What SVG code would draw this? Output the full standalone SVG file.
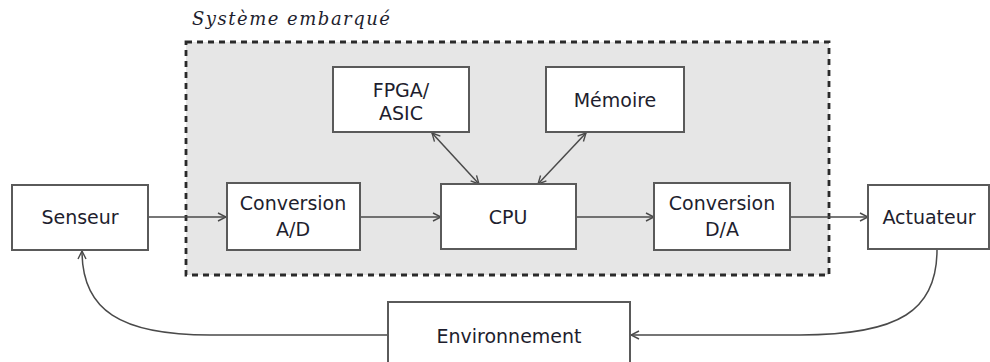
<svg xmlns="http://www.w3.org/2000/svg" width="990" height="362" viewBox="0 0 990 362">
<defs>
<marker id="ah" viewBox="0 0 10 10" refX="9" refY="5" markerWidth="10" markerHeight="10" markerUnits="userSpaceOnUse" orient="auto-start-reverse">
<path d="M1,1 L9,5 L1,9" fill="none" stroke="#4a4a4a" stroke-width="1.4"/>
</marker>
<style>
.box{fill:#fff;stroke:#5a5a5a;stroke-width:2}
.t{font-family:"DejaVu Sans",sans-serif;font-size:19px;fill:#1e1e2e;text-anchor:middle}
.c{fill:none;stroke:#4a4a4a;stroke-width:1.5}
</style>
</defs>
<rect x="0" y="0" width="990" height="362" fill="#fff"/>
<g id="systeme">
<rect x="186" y="42" width="643" height="233" fill="#e6e6e6" stroke="#2a2a2a" stroke-width="2.8" stroke-dasharray="6,5"/>
<text x="192" y="25" font-family="DejaVu Serif,serif" font-style="italic" font-size="18" fill="#1e1e2e" textLength="198" lengthAdjust="spacing">Système embarqué</text>
</g>
<g id="connectors">
<line class="c" x1="148" y1="217" x2="226" y2="217" marker-end="url(#ah)"/>
<line class="c" x1="360" y1="217" x2="441" y2="217" marker-end="url(#ah)"/>
<line class="c" x1="576" y1="217" x2="654" y2="217" marker-end="url(#ah)"/>
<line class="c" x1="790" y1="217" x2="868" y2="217" marker-end="url(#ah)"/>
<line class="c" x1="432" y1="133" x2="479" y2="184" marker-start="url(#ah)" marker-end="url(#ah)"/>
<line class="c" x1="586" y1="133" x2="538" y2="184" marker-start="url(#ah)" marker-end="url(#ah)"/>
<path class="c" d="M937,250 C937,310 900,335 800,335 L631,335" marker-end="url(#ah)"/>
<path class="c" d="M388,335 L210,335 C120,335 82,310 82,251" marker-end="url(#ah)"/>
</g>
<g id="senseur"><rect class="box" x="12" y="185" width="136" height="65"/><text class="t" x="80" y="224">Senseur</text></g>
<g id="conv-ad"><rect class="box" x="227" y="183" width="133" height="67"/><text class="t" x="293" y="210">Conversion</text><text class="t" x="293" y="236">A/D</text></g>
<g id="cpu"><rect class="box" x="441" y="184" width="135" height="65"/><text class="t" x="508" y="224">CPU</text></g>
<g id="conv-da"><rect class="box" x="654" y="183" width="136" height="67"/><text class="t" x="722" y="210">Conversion</text><text class="t" x="722" y="236">D/A</text></g>
<g id="actuateur"><rect class="box" x="868" y="185" width="121" height="64"/><text class="t" x="929" y="224">Actuateur</text></g>
<g id="fpga"><rect class="box" x="333" y="67" width="136" height="65"/><text class="t" x="401" y="97">FPGA/</text><text class="t" x="401" y="120">ASIC</text></g>
<g id="memoire"><rect class="box" x="546" y="67" width="138" height="65"/><text class="t" x="615" y="107">Mémoire</text></g>
<g id="environnement"><rect class="box" x="388" y="302" width="242" height="70"/><text class="t" x="509" y="343">Environnement</text></g>
</svg>
